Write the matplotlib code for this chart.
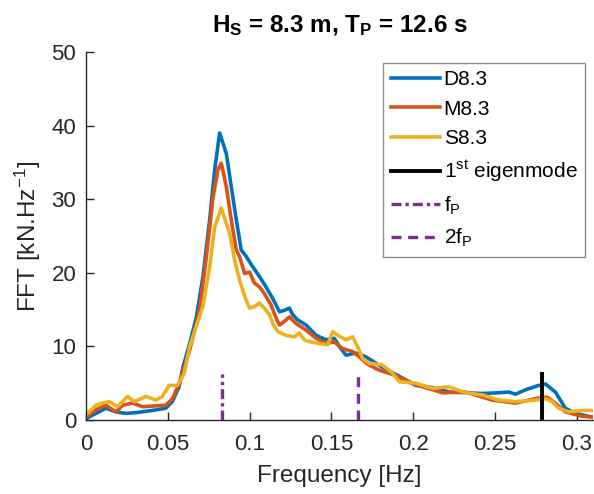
import matplotlib
matplotlib.use("Agg")
import matplotlib.pyplot as plt

# FFT spectra
freq_d = [0, 0.0061, 0.0122, 0.0183, 0.0244, 0.0305, 0.0407, 0.0488, 0.0528, 0.0569,
          0.0593, 0.0634, 0.0675, 0.0715, 0.0756, 0.0787, 0.0817, 0.0858, 0.0888, 0.0919,
          0.0949, 0.098, 0.102, 0.106, 0.11, 0.1142, 0.1183, 0.1213, 0.1244, 0.1264,
          0.1295, 0.1346, 0.1407, 0.1468, 0.1518, 0.1549, 0.159, 0.165, 0.171, 0.181,
          0.1935, 0.2016, 0.2118, 0.222, 0.2423, 0.2524, 0.2585, 0.2626, 0.2687, 0.2768,
          0.2809, 0.287, 0.2931, 0.2992, 0.3073, 0.31]
fft_d = [0.2, 0.9, 1.6, 1.1, 0.9, 1.0, 1.3, 1.6, 2.5, 4.5,
         7.2, 10.4, 14.0, 19.5, 27.2, 34.0, 39.0, 36.2, 31.7, 27.2,
         23.1, 22.2, 20.8, 19.5, 18.1, 16.5, 14.7, 14.9, 15.2, 14.3,
         13.6, 12.9, 11.5, 10.9, 11.1, 10.0, 8.8, 9.1, 8.6, 7.2,
         5.7, 4.7, 4.4, 3.8, 3.6, 3.7, 3.8, 3.5, 4.1, 4.7,
         4.9, 3.8, 1.6, 0.9, 0.5, 0.4]

freq_m = [0, 0.0061, 0.0122, 0.0183, 0.0224, 0.0285, 0.0346, 0.0407, 0.0488, 0.0528,
          0.0569, 0.0634, 0.0695, 0.0736, 0.0777, 0.0807, 0.0827, 0.0858, 0.0888, 0.0919,
          0.0939, 0.097, 0.1, 0.103, 0.106, 0.109, 0.1132, 0.1163, 0.1183, 0.1213,
          0.1244, 0.1285, 0.1346, 0.1407, 0.1468, 0.1518, 0.1569, 0.163, 0.167, 0.172,
          0.179, 0.1874, 0.2016, 0.218, 0.232, 0.2484, 0.2626, 0.2748, 0.2819, 0.287,
          0.2931, 0.3033, 0.31]
fft_m = [0.4, 1.4, 2.0, 1.1, 2.0, 2.3, 1.8, 1.9, 2.0, 2.9,
         4.9, 9.5, 15.0, 22.2, 30.3, 34.0, 34.9, 31.7, 27.2, 23.1,
         22.2, 19.9, 20.1, 18.6, 18.1, 17.2, 15.6, 13.8, 12.9, 13.4,
         14.0, 13.1, 12.2, 11.1, 10.4, 10.6, 9.7, 9.3, 8.6, 7.6,
         6.8, 6.2, 4.8, 3.7, 3.8, 2.7, 2.3, 2.9, 3.1, 2.3,
         1.1, 0.5, 0.4]

freq_s = [0, 0.0061, 0.0102, 0.0142, 0.0193, 0.0254, 0.0295, 0.0366, 0.0427, 0.0467,
          0.0508, 0.0559, 0.06, 0.0634, 0.0715, 0.0756, 0.0787, 0.0827, 0.0858, 0.0878,
          0.0909, 0.0939, 0.097, 0.1, 0.103, 0.106, 0.109, 0.1122, 0.1142, 0.1173,
          0.1224, 0.1274, 0.1305, 0.1335, 0.1376, 0.1427, 0.1478, 0.1508, 0.1539, 0.159,
          0.163, 0.166, 0.169, 0.173, 0.181, 0.1874, 0.1915, 0.2016, 0.2118, 0.222,
          0.2321, 0.2423, 0.2524, 0.2626, 0.2748, 0.2809, 0.285, 0.289, 0.2951, 0.3033,
          0.31]
fft_s = [0.7, 2.0, 2.3, 2.5, 1.8, 3.2, 2.5, 3.2, 2.7, 3.2,
         4.7, 4.7, 6.3, 10.0, 15.5, 20.8, 26.2, 28.8, 26.7, 25.4,
         21.7, 19.0, 16.8, 15.2, 15.4, 15.9, 15.2, 14.3, 13.1, 12.0,
         11.5, 11.3, 11.8, 10.9, 10.6, 10.4, 10.2, 12.0, 11.5, 10.9,
         11.3, 10.0, 8.4, 7.7, 7.5, 6.4, 5.2, 5.0, 4.3, 4.5,
         3.7, 3.4, 2.7, 2.5, 2.7, 2.9, 2.5, 1.6, 1.1, 1.3,
         1.3]

series_labels = ['D8.3', 'M8.3', 'S8.3']
eigen_freq = 0.279
peak_freq = 0.0833
marker_height = 6.3

x_ticks = [0, 0.05, 0.1, 0.15, 0.2, 0.25, 0.3]
x_tick_labels = ['0', '0.05', '0.1', '0.15', '0.2', '0.25', '0.3']
y_ticks = [0, 10, 20, 30, 40, 50]

plt.rcParams['font.family'] = ['Liberation Sans', 'DejaVu Sans']
plt.rcParams['mathtext.default'] = 'regular'

blue = '#0072BD'
orange = '#D95319'
yellow = '#EDB120'
purple = '#7E2F8E'
axis_color = '#262626'

fig = plt.figure(figsize=(5.94, 4.94), dpi=100)
ax = fig.add_axes([0.1448, 0.1498, 0.8535, 0.745])

ax.plot(freq_d, fft_d, color=blue, lw=2.6, label=series_labels[0])
ax.plot(freq_m, fft_m, color=orange, lw=2.6, label=series_labels[1])
ax.plot(freq_s, fft_s, color=yellow, lw=2.6, label=series_labels[2])
ax.plot([eigen_freq, eigen_freq], [0, marker_height], color='black', lw=2.8,
        label='1$^{st}$ eigenmode')
ax.plot([peak_freq, peak_freq], [0, marker_height], color=purple, lw=2.4,
        linestyle=(0, (3, 1.2, 1, 1.2)), label='f$_P$')
ax.plot([2 * peak_freq, 2 * peak_freq], [0, marker_height], color=purple, lw=2.4,
        linestyle=(0, (3, 2)), label='2f$_P$')

ax.set_xlim(0, 0.31)
ax.set_ylim(0, 50)
ax.set_xticks(x_ticks)
ax.set_xticklabels(x_tick_labels)
ax.set_yticks(y_ticks)

for side in ['top', 'right']:
    ax.spines[side].set_visible(False)
for side in ['left', 'bottom']:
    ax.spines[side].set_color(axis_color)
    ax.spines[side].set_linewidth(1.0)
ax.tick_params(direction='in', length=6, width=1.0, colors=axis_color, labelsize=16)
ax.tick_params(axis='x', pad=10)
ax.tick_params(axis='y', pad=7)

ax.set_xlabel('Frequency [Hz]', fontsize=17.5, color=axis_color, labelpad=7)
ax.set_ylabel('FFT [kN.Hz$^{-1}$]', fontsize=17.5, color=axis_color, labelpad=6)
ax.set_title('H$_S$ = 8.3 m, T$_P$ = 12.6 s', fontsize=17.5, fontweight='bold',
             color='black', pad=14)

leg = ax.legend(loc='upper right', bbox_to_anchor=(0.984, 0.97), borderaxespad=0,
                fontsize=15, handlelength=2.35, handletextpad=0.2,
                labelspacing=0.5, fancybox=False, framealpha=1,
                edgecolor='#8c8c8c', borderpad=0.35)
leg.get_frame().set_linewidth(1.0)

fig.savefig('out.png', dpi=100)
